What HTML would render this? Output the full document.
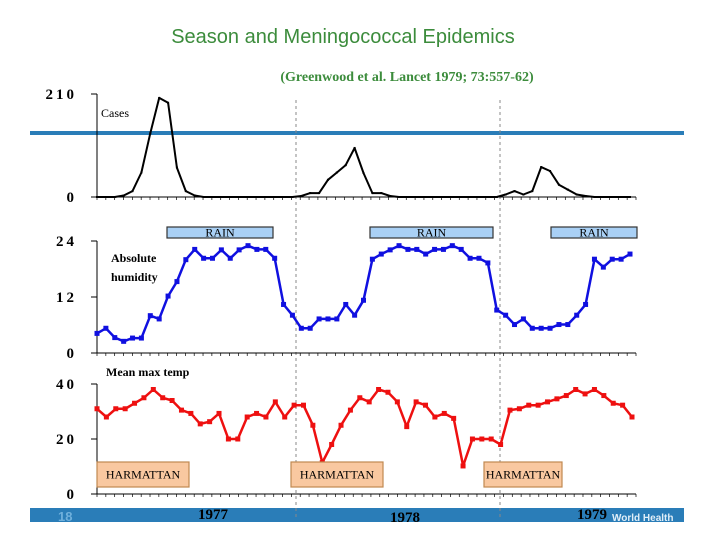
<!DOCTYPE html>
<html><head><meta charset="utf-8"><style>
html,body{margin:0;padding:0;background:#fff;}
svg{display:block;}
.ax{font-family:"Liberation Serif",serif;font-weight:bold;font-size:15px;letter-spacing:3px;fill:#000;}
.lbl{font-family:"Liberation Serif",serif;font-size:12px;fill:#000;}
</style></head><body>
<svg id="chart" width="720" height="540" viewBox="0 0 720 540" xmlns="http://www.w3.org/2000/svg">
<text x="343" y="43" text-anchor="middle" font-family="Liberation Sans, sans-serif" font-size="20" fill="#3c8c3c">Season and Meningococcal Epidemics</text>
<text x="407" y="81" text-anchor="middle" font-family="Liberation Serif, serif" font-weight="bold" font-size="14" fill="#3c8c3c">(Greenwood et al. Lancet 1979; 73:557-62)</text>
<rect x="30" y="508" width="654" height="14" fill="#2a7db8"/>
<text x="58" y="521" font-family="Liberation Sans, sans-serif" font-weight="bold" font-size="13" fill="#6fb0dc">18</text>
<text x="612" y="521" font-family="Liberation Sans, sans-serif" font-weight="bold" font-size="10" fill="#e0eef8">World Health</text>
<line x1="30" y1="133" x2="684" y2="133" stroke="#2a7db8" stroke-width="4"/>
<g id="dash"></g>
<g id="g-cases"></g>
<g id="g-hum"></g>
<g id="g-temp"></g>
<text x="213" y="519" class="ax" text-anchor="middle" font-size="15" style="letter-spacing:0">1977</text>
<text x="405" y="522" class="ax" text-anchor="middle" font-size="15" style="letter-spacing:0">1978</text>
<text x="592" y="519" class="ax" text-anchor="middle" font-size="15" style="letter-spacing:0">1979</text>
</svg>
<script>
const casesValues=[0,0,0,3,12,50,130,202,192,60,12,3,0,0,0,0,0,0,0,0,0,0,0,2,8,8,35,50,65,100,49,8,8,2,0,0,0,0,0,0,0,0,0,0,0,0,5,12,5,12,61,53,25,15,5,2,0,0,0,0,0];
const humidityValues=[4.2,5.3,3.3,2.5,3.2,3.2,8,7.3,12.2,15.3,20,22.2,20.3,20.3,22.1,20.3,22.1,23,22.2,22.2,20.3,10.4,8.1,5.3,5.3,7.3,7.3,7.3,10.4,8.1,11.3,20.1,21.2,22.1,23,22.2,22.2,21.2,22.2,22.2,23,22.2,20.3,20.3,19.3,9.2,8.1,6.1,7.3,5.3,5.3,5.3,6.1,6.1,8.1,10.4,20.1,18.4,20.1,20.1,21.2];
const tempValues=[31,28,31,31,33,35,38,35,34,30.5,29.3,25.5,26.3,29.3,20,20,28,29.3,28,33.5,28,32.3,32.3,25,11.4,18,25,30.5,35,33.5,38,37,33.5,24.5,33.5,32.3,28,29.3,27.5,10.2,20,20,20,18,30.5,31,32.3,32.3,33.5,34.6,35.8,38,36.4,38,35.8,33,32.3,28];
const casesTicks=["210","0"];
const humidityTicks=["24","12","0"];
const tempTicks=["40","20","0"];
const NS="http://www.w3.org/2000/svg";
function mk(parent,tag,attrs){const e=document.createElementNS(NS,tag);for(const k in attrs)e.setAttribute(k,attrs[k]);parent.appendChild(e);return e;}
const X0=97,X1=636;
function panel(g,top,bottom,max,ticks,tickVals,vals,xEnd,color,marker,name){
  const y=v=>bottom-(v/max)*(bottom-top);
  const ax=mk(g,'line',{x1:X0,y1:top,x2:X0,y2:bottom,stroke:'#000','stroke-width':1});
  
  
  const bx=mk(g,'line',{x1:X0,y1:bottom,x2:X1,y2:bottom,stroke:'#000','stroke-width':1});
  
  
  for(let i=0;i<=61;i++){const tx=X0+i*(X1-X0)/61;const t=mk(g,'line',{x1:tx,y1:bottom,x2:tx,y2:bottom+3,stroke:'#000','stroke-width':0.7});
    
    }
  ticks.forEach((lab,k)=>{const yy=y(tickVals[k]);
    const tm=mk(g,'line',{x1:X0-6,y1:yy,x2:X0,y2:yy,stroke:'#000'});
    
    
    const t=mk(g,'text',{x:X0-20,y:yy+5,'text-anchor':'end',class:'ax'});t.textContent=lab;
    
    });
  const n=vals.length,xs=i=>X0+i*(xEnd-X0)/(n-1);
  const pts=vals.map((v,i)=>xs(i).toFixed(1)+','+y(v).toFixed(1)).join(' ');
  const pl=mk(g,'polyline',{points:pts,fill:'none',stroke:color,'stroke-width':name==='cases'?2:2.5,'stroke-linejoin':'round'});
  
  
  vals.forEach((v,i)=>{const m=mk(g,'rect',{x:xs(i)-marker/2,y:y(v)-marker/2,width:marker,height:marker,fill:color});
    
    });
}
const dg=document.getElementById('dash');
[296,500].forEach(x=>{const l=mk(dg,'line',{x1:x,y1:100,x2:x,y2:520,stroke:'#888','stroke-width':1,'stroke-dasharray':'3,3'});
  
  });
const gc=document.getElementById('g-cases');
panel(gc,94,197,210,casesTicks,[210,0],casesValues,630,'#000',2,'cases');
const gh=document.getElementById('g-hum');
panel(gh,241,353,24,humidityTicks,[24,12,0],humidityValues,630,'#1010e0',5,'humidity');
const gt=document.getElementById('g-temp');
panel(gt,384,494,40,tempTicks,[40,20,0],tempValues,632,'#ee1010',5,'temp');
function box(g,x,y,w,h,fill,stroke,label,name){
  const r=mk(g,'rect',{x:x,y:y,width:w,height:h,fill:fill,stroke:stroke,'stroke-width':1.2});
  
  
  const t=mk(g,'text',{x:x+w/2,y:y+h/2+4,'text-anchor':'middle',class:'lbl','font-size':'11'});t.textContent=label;
  
  
}
box(gh,167,227,106,11,'#a9d0f5','#333','RAIN','rain-box');
box(gh,370,227,123,11,'#a9d0f5','#333','RAIN','rain-box');
box(gh,551,227,86,11,'#a9d0f5','#333','RAIN','rain-box');
box(gt,97,462,92,25,'#f9c8a0','#c08850','HARMATTAN','harmattan-box');
box(gt,291,462,92,25,'#f9c8a0','#c08850','HARMATTAN','harmattan-box');
box(gt,484,462,78,25,'#f9c8a0','#c08850','HARMATTAN','harmattan-box');
let t=mk(gc,'text',{x:101,y:117,class:'lbl'});t.textContent='Cases';


t=mk(gh,'text',{x:111,y:262,class:'lbl','font-weight':'bold','font-size':'13'});t.textContent='Absolute';


t=mk(gh,'text',{x:111,y:281,class:'lbl','font-weight':'bold','font-size':'13'});t.textContent='humidity';


t=mk(gt,'text',{x:106,y:376,class:'lbl','font-weight':'bold','font-size':'13'});t.textContent='Mean max temp';


</script>
</body></html>
